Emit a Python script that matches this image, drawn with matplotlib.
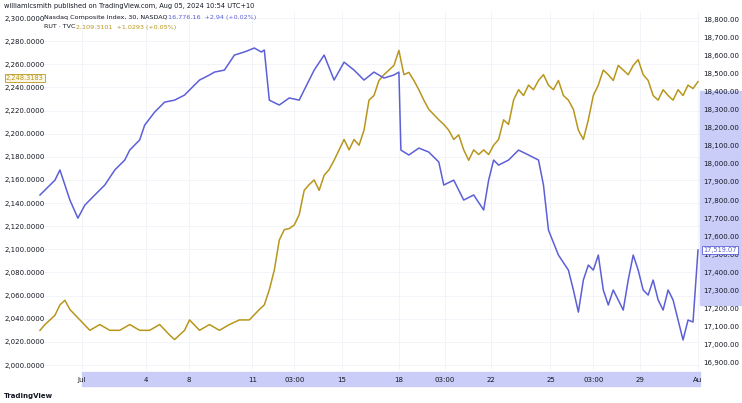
import matplotlib
matplotlib.use("Agg")
import matplotlib.pyplot as plt
from matplotlib.patches import Rectangle
import matplotlib.transforms as mtransforms

# Nasdaq (right axis) - bar index / value
nas_x = [0,3,4,5,6,7.6,9,11,13,15,17,18,20,21,23,25,27,29,30,32,34,35,37,39,41,43,44.4,45,46,48,50,52,53,55,57,59,61,63,65,67,69,71,72,72.4,74,76,78,80,81,83,85,87,89,90,91,92,94,96,98,100,101,102,104,106,107,108,109,110,111,112,113,114,115,116,117,118,119,120,121,122,123,124,125,126,127,128,129,130,131,132]
nas_y = [17828,17910,17966,17883,17800,17700,17772,17828,17883,17966,18021,18076,18132,18214,18286,18341,18352,18380,18408,18463,18491,18507,18518,18601,18618,18640,18618,18629,18352,18325,18364,18352,18408,18518,18601,18463,18562,18518,18463,18507,18474,18491,18507,18076,18049,18087,18065,18010,17883,17910,17800,17828,17745,17910,18021,17993,18021,18076,18049,18021,17883,17634,17496,17413,17303,17181,17358,17441,17413,17496,17303,17220,17303,17248,17192,17358,17496,17413,17303,17275,17358,17248,17192,17303,17248,17137,17027,17137,17126,17524]
# RUT (left axis)
rut_px = [40,45,55,60,65,70,80,90,100,110,120,130,140,150,160,170,175,185,190,200,210,220,230,240,250,260]+list(range(265,431,5))+list(range(440,701,5))
rut_x = [(p-40)/5 for p in rut_px]
rut_y = [2030,2035,2043,2052,2056,2048,2039,2030,2035,2030,2030,2035,2030,2030,2035,2026,2022,2030,2039,2030,2035,2030,2035,2039,2039,2048,
         2052,2065,2082,2108,2117,2118,2121,2130,2151,2156,2160,2151,2164,2169,2177,2186,2195,2186,2195,2190,2203,2229,2233,2246,2251,2255,2259,2272,2251,2253,2246,2238,2229,2221,
         2212,2208,2203,2195,2199,2186,2177,2186,2182,2186,2182,2190,2195,2212,2208,2229,2238,2233,2242,2238,2246,2251,2242,2238,2246,2233,2229,2221,2203,2195,2212,2233,2242,2255,2251,2246,2259,2255,2251,2259,2264,2251,2246,2233,2229,2238,2233,2229,2238,2233,2242,2239,2245]
tick_pos = [8.4,21.2,29.8,42.6,51,60.6,72,81.2,90.4,102.4,111,120.4,132]
tick_lab = ["Jul","4","8","11","03:00","15","18","03:00","22","25","03:00","29","Au"]
left_ticks = list(range(2000, 2301, 20))
right_ticks = list(range(16900, 18801, 100))

BLUE = "#5c5fd6"; GOLD = "#b8961c"; TXT = "#131722"
W, H = 742, 403
fig = plt.figure(figsize=(W/100, H/100), dpi=100)
ax = fig.add_axes([38/W, 1-370/H, 662/W, 358/H])
ax.patch.set_alpha(0)
ax2 = ax.twinx()
ax2.patch.set_alpha(0)
ax.plot(rut_x, rut_y, color=GOLD, lw=1.1)
ax2.plot(nas_x, nas_y, color=BLUE, lw=1.1)
ax.set_xlim(-0.4, 132.4)
ax.set_ylim(1995.7, 2305.2)
ax2.set_ylim(16861, 18839)
ax.set_yticks(left_ticks)
ax.set_yticklabels([f"{v:,}.0000" for v in left_ticks])
ax2.set_yticks(right_ticks)
ax2.set_yticklabels([f"{v:,}.00" for v in right_ticks])
for a in (ax, ax2):
    for s in a.spines.values():
        s.set_visible(False)
    a.tick_params(length=0, labelsize=5, colors=TXT, pad=2)
ax.tick_params(axis="y", pad=24)
for lab in ax.get_yticklabels():
    lab.set_horizontalalignment("left")
ax.set_xticks(tick_pos)
ax.set_xticklabels(tick_lab)
ax.tick_params(axis="x", pad=5)
ax.grid(True, axis="x", color="#f0f3fa", lw=0.6)
ax.grid(True, axis="y", color="#f0f3fa", lw=0.6)

# date band
band = Rectangle((82/W, 1-386/H), 618/W, 14/H, transform=fig.transFigure, color="#c9cdf7", zorder=-5)
fig.patches.append(band)
# right axis band
tr = mtransforms.blended_transform_factory(ax2.transAxes, ax2.transData)
ax2.add_patch(Rectangle((1.0, 17220), 0.065, 1180, transform=tr, color="#c9cdf7", clip_on=False, zorder=-1))
# last value labels
ax2.text(1.005, 17524, "17,519.07", transform=tr, fontsize=4.8, color=BLUE, va="center",
         bbox=dict(boxstyle="square,pad=0.15", fc="white", ec=BLUE, lw=0.6))
trl = mtransforms.blended_transform_factory(fig.transFigure, ax.transData)
ax.text(6/W, 2248, "2,248.3183", transform=trl, fontsize=4.8, color=GOLD, va="center",
        bbox=dict(boxstyle="square,pad=0.15", fc="#fdf8e6", ec=GOLD, lw=0.6))

fig.text(4/W, 1-6/H, "williamlcsmith published on TradingView.com, Aug 05, 2024 10:54 UTC+10", fontsize=4.8, color=TXT, va="center")
fig.text(44/W, 1-18/H, "Nasdaq Composite Index, 30, NASDAQ", fontsize=4.6, color=TXT, va="center")
fig.text(168/W, 1-18/H, "16,776.16  +2.94 (+0.02%)", fontsize=4.6, color=BLUE, va="center")
fig.text(44/W, 1-27/H, "RUT · TVC", fontsize=4.6, color=TXT, va="center")
fig.text(76/W, 1-27/H, "2,109.3101  +1.0293 (+0.05%)", fontsize=4.6, color=GOLD, va="center")
fig.text(4/W, 1-396/H, "TradingView", fontsize=5, color=TXT, va="center", fontweight="bold")
fig.savefig("out.png", dpi=100, facecolor="white")
